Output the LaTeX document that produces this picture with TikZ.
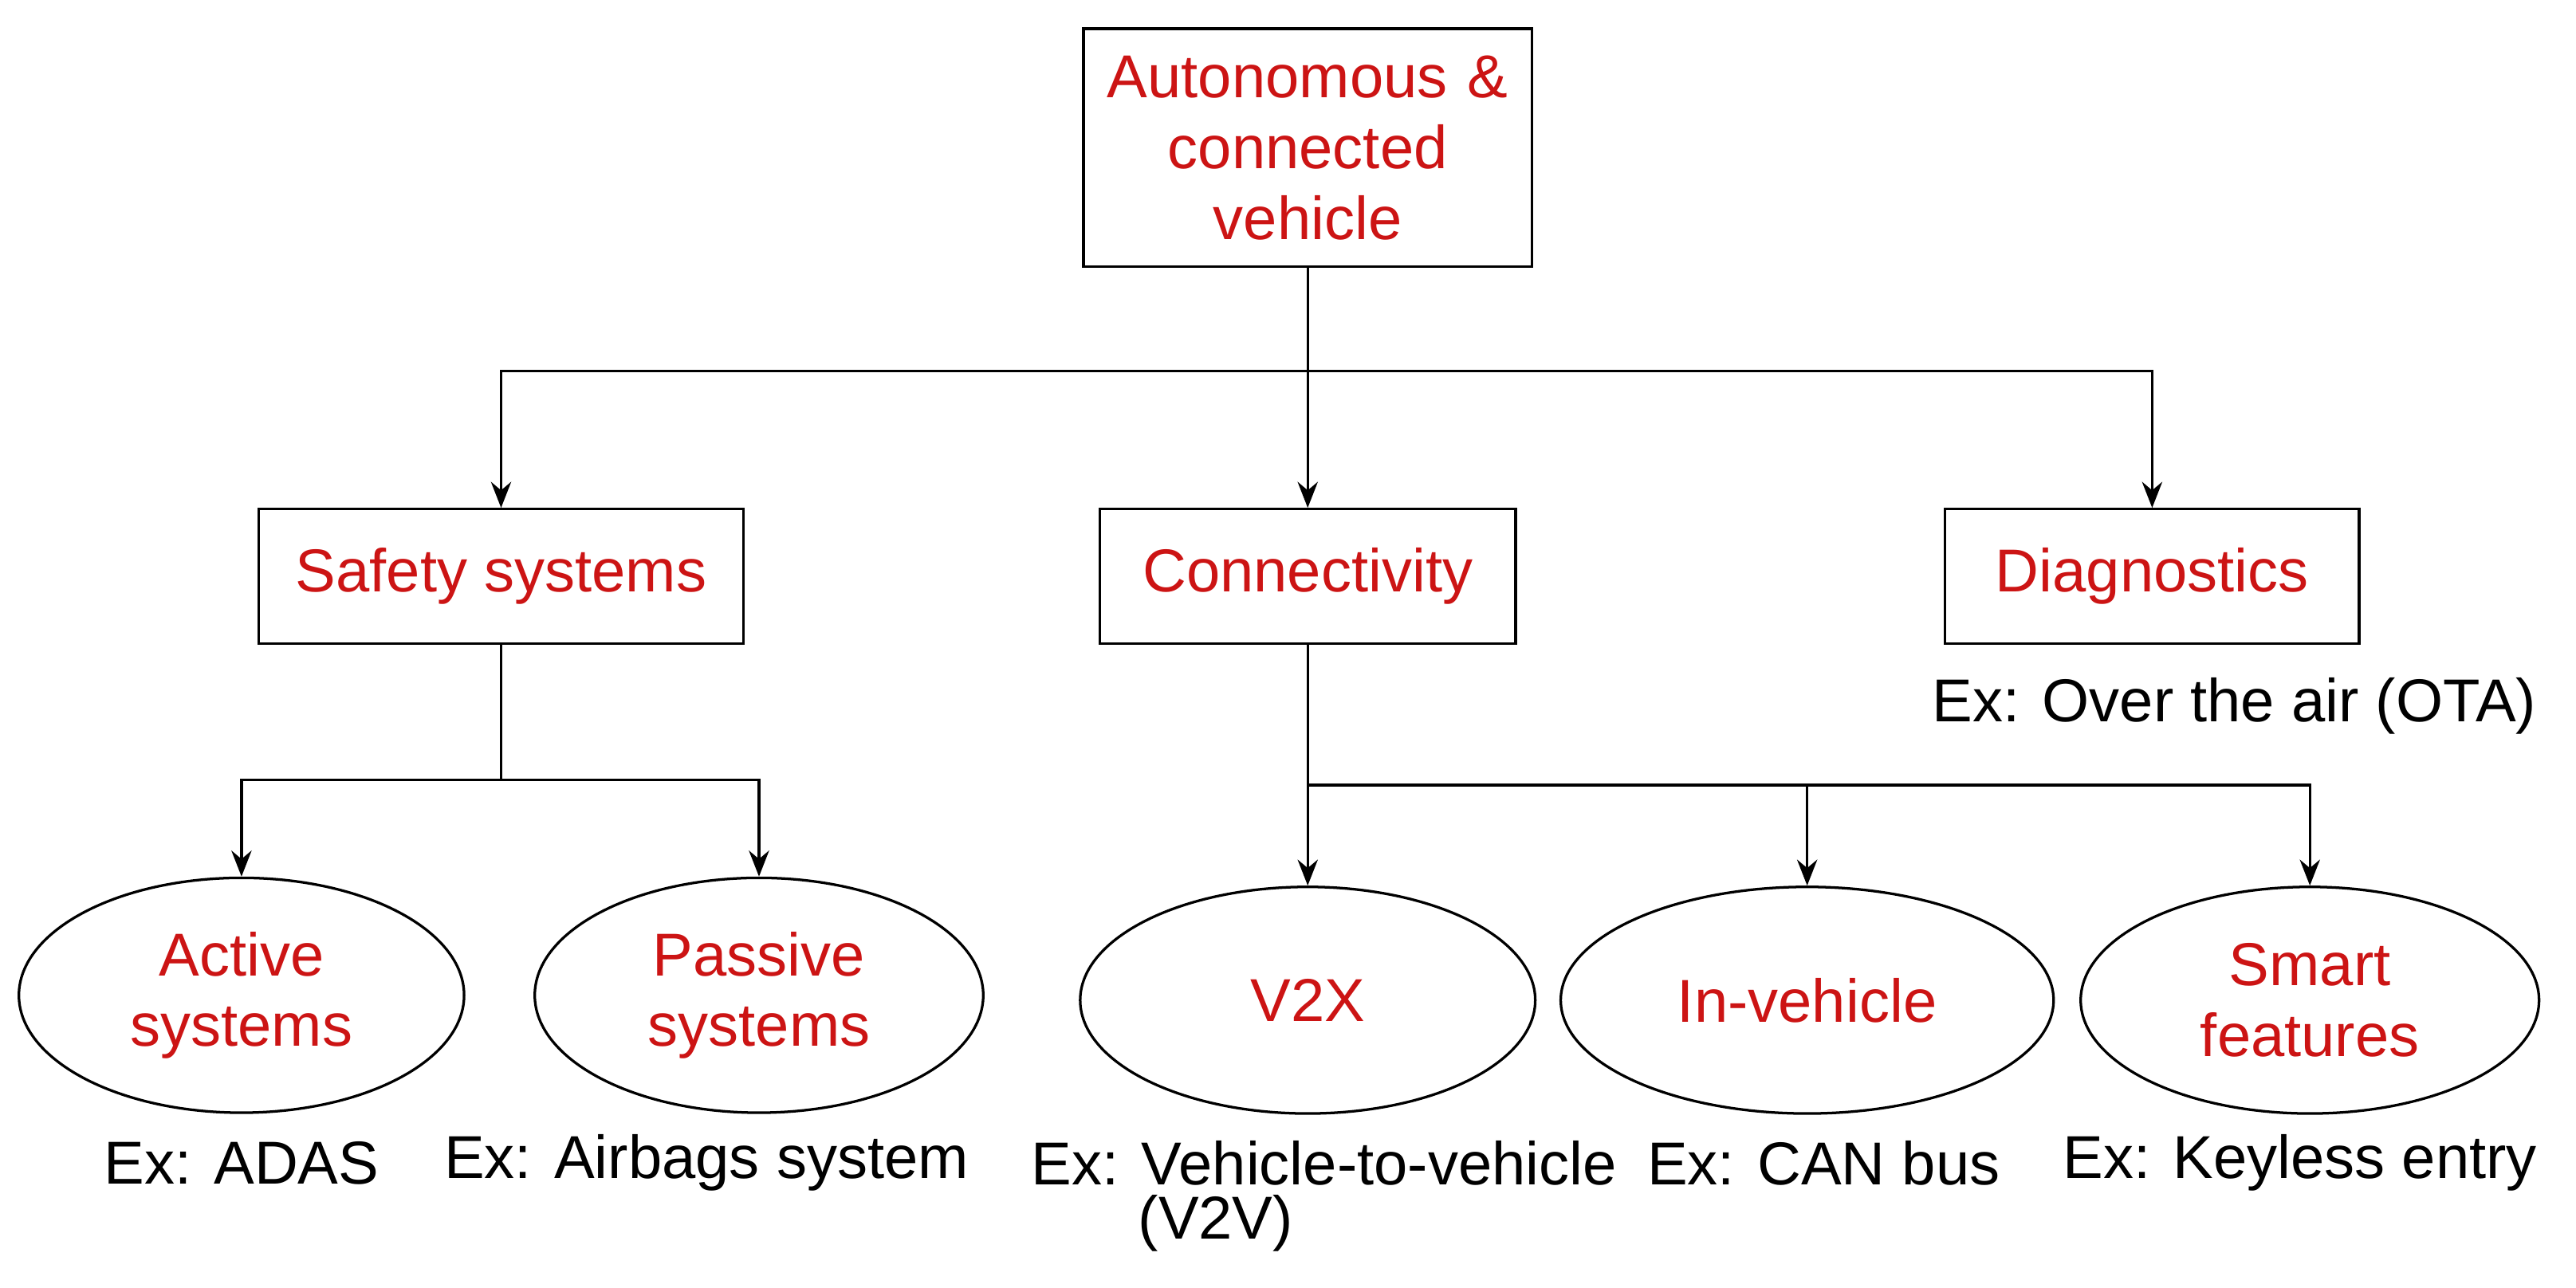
\documentclass[tikz,border=0pt]{standalone}
\usepackage{fontspec}
\setmainfont{Liberation Sans}
\usetikzlibrary{shapes.geometric,arrows.meta}
\definecolor{tred}{RGB}{204,20,20}
\begin{document}
\begin{tikzpicture}[x=0.02cm,y=-0.02cm,
  every node/.style={font=\fontsize{21}{24.5}\selectfont},
  box/.style={draw,line width=0.9pt,text=tred,align=center,inner sep=0pt},
  ell/.style={draw,ellipse,line width=0.9pt,text=tred,align=center,inner sep=0pt},
  ex/.style={text=black,inner sep=0pt},
  arr/.style={line width=0.9pt,-{Stealth[length=9pt,width=7pt]}},
  ln/.style={line width=0.9pt}]
\useasboundingbox (0,0) rectangle (1568,784);
\node[box,text width=265*0.02cm,minimum width=273*0.02cm,minimum height=145*0.02cm] (top) at (796,90) {Autonomous \&\\connected\\vehicle};
\node[box,minimum width=295*0.02cm,minimum height=82*0.02cm] (saf) at (305,351) {Safety systems};
\node[box,minimum width=253*0.02cm,minimum height=82*0.02cm] (con) at (796,351) {Connectivity};
\node[box,minimum width=252*0.02cm,minimum height=82*0.02cm] (dia) at (1310,351) {Diagnostics};
\node[ex] (ota) at (1360,430) {Ex: Over the air (OTA)};
\node[ell,minimum width=271*0.02cm,minimum height=143*0.02cm] (act) at (147,606) {Active\\systems};
\node[ell,minimum width=273*0.02cm,minimum height=143*0.02cm] (pas) at (462,606) {Passive\\systems};
\node[ell,minimum width=277*0.02cm,minimum height=138*0.02cm] (v2x) at (796,609) {V2X};
\node[ell,minimum width=300*0.02cm,minimum height=138*0.02cm] (inv) at (1100,609) {In-vehicle};
\node[ell,minimum width=279*0.02cm,minimum height=138*0.02cm] (sma) at (1406,609) {Smart\\features};
\node[ex] (e1) at (147,708) {Ex: ADAS};
\node[ex] (e2) at (430,708) {Ex: Airbags system};
\node[ex] (e3) at (806,708) {Ex: Vehicle-to-vehicle};
\node[ex] (e3b) at (740,745) {(V2V)};
\node[ex] (e4) at (1110,708) {Ex: CAN bus};
\node[ex] (e5) at (1400,708) {Ex: Keyless entry};
\coordinate (j1) at (796,226);
\draw[ln] (top.south) -- (j1);
\draw[arr] (j1) -| (saf.north);
\draw[arr] (j1) -- (con.north);
\draw[arr] (j1) -| (dia.north);
\coordinate (j2) at (305,475);
\draw[ln] (saf.south) -- (j2);
\draw[arr] (j2) -| (act.north);
\draw[arr] (j2) -| (pas.north);
\coordinate (j3) at (796,478);
\draw[ln] (con.south) -- (j3);
\draw[arr] (j3) -- (v2x.north);
\draw[arr] (j3) -| (inv.north);
\draw[arr] (j3) -| (sma.north);
\end{tikzpicture}
\end{document}
